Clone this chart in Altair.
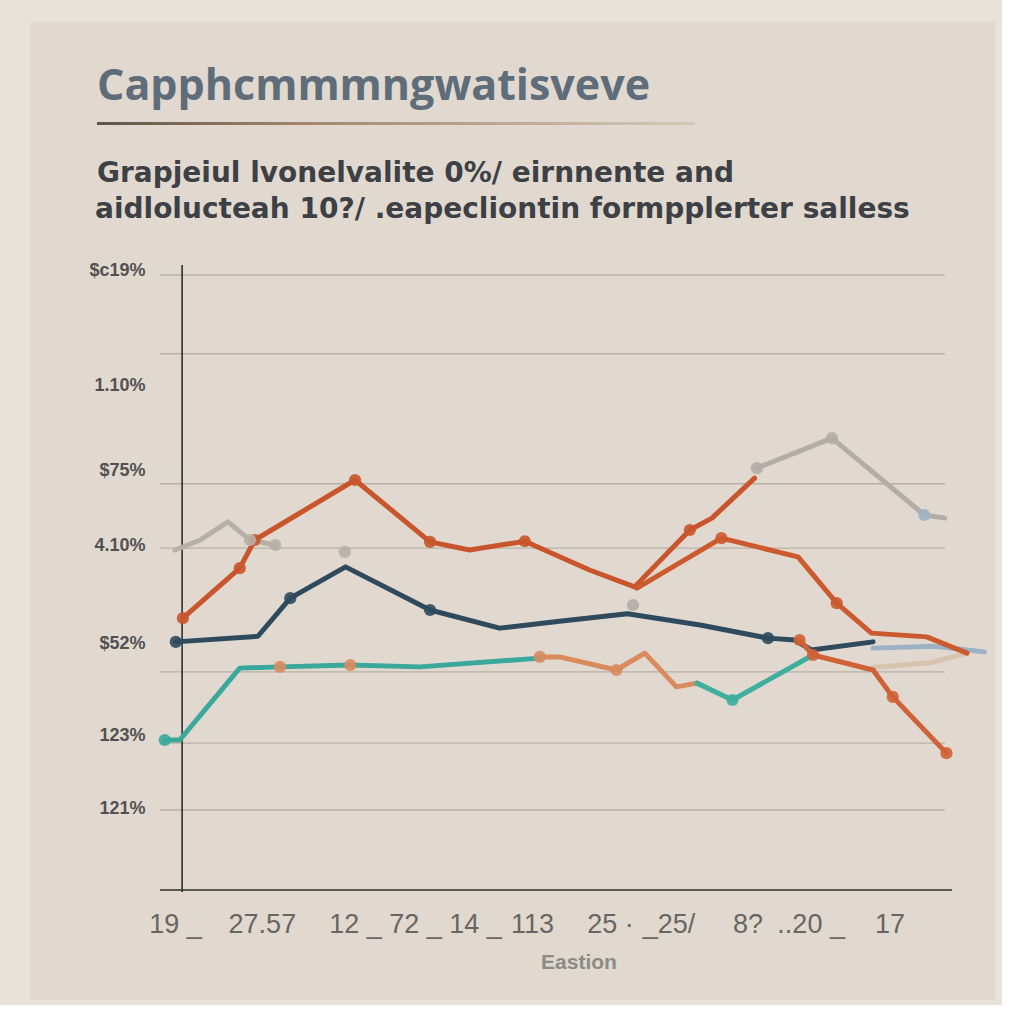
import altair as alt
import pandas as pd

# ---------------- data ----------------
navy_x = [2.0, 12.4, 16.5, 23.5, 34.2, 43.0, 50.6, 59.2, 68.4, 77.0, 80.4, 82.5, 90.3]
navy_y = [39.7, 40.6, 46.7, 51.7, 44.8, 41.9, 43.0, 44.2, 42.4, 40.3, 40.0, 38.4, 39.7]

bluetip_x = [90.3, 98.1, 104.4]
bluetip_y = [38.7, 39.0, 38.1]

orange_a_x = [2.9, 10.1, 12.0, 17.3, 24.7, 34.2, 39.2, 46.2, 54.4, 60.1, 67.1, 69.9, 75.3]
orange_a_y = [43.5, 51.5, 56.0, 60.0, 65.6, 55.7, 54.4, 55.8, 51.2, 48.5, 57.6, 59.5, 65.9]

gray_r_x = [75.6, 85.1, 96.8, 99.4]
gray_r_y = [67.5, 72.3, 60.0, 59.5]

orange_b_x = [60.4, 71.1, 80.8, 85.7, 90.1, 97.1, 102.2]
orange_b_y = [48.3, 56.3, 53.3, 45.9, 41.1, 40.5, 37.9]

beige_x = [90.3, 97.7, 102.2]
beige_y = [35.6, 36.4, 37.9]

orange_c_x = [48.1, 50.6, 57.8, 61.4, 65.4, 68.0]
orange_c_y = [37.3, 37.3, 35.2, 37.9, 32.5, 33.1]

teal_a_x = [0.6, 2.5, 10.1, 15.2, 24.1, 32.9, 48.1]
teal_a_y = [24.0, 24.0, 35.5, 35.7, 36.0, 35.7, 37.1]

teal_b_x = [68.0, 72.5, 82.7]
teal_b_y = [33.1, 30.4, 37.6]

orange_d_x = [81.0, 82.7, 90.3, 92.8, 99.6]
orange_d_y = [40.0, 37.6, 35.2, 30.9, 21.9]

gray_l_x = [1.9, 5.1, 8.6, 11.4, 14.6]
gray_l_y = [54.4, 56.0, 58.9, 56.0, 55.2]

marker_series = ["orange_a", "orange_a", "orange_a", "orange_a", "orange_a", "orange_a",
                 "orange_a", "navy", "navy", "navy", "teal_a", "orange_c", "orange_c",
                 "orange_c", "orange_c", "gray_r", "gray_r", "bluetip", "orange_b",
                 "orange_b", "orange_d", "orange_d", "orange_d", "orange_d", "gray_l",
                 "gray_l", "gray_l", "gray_r", "teal_b", "navy"]
marker_x = [2.9, 10.1, 12.0, 24.7, 34.2, 46.2, 67.1, 16.5, 34.2, 77.0, 0.6, 15.2, 24.1,
            48.1, 57.8, 75.6, 85.1, 96.8, 71.1, 85.7, 81.0, 82.7, 92.8, 99.6, 11.4,
            23.4, 14.6, 59.9, 72.5, 2.0]
marker_y = [43.5, 51.5, 56.0, 65.6, 55.7, 55.8, 57.6, 46.7, 44.8, 40.3, 24.0, 35.7, 36.0,
            37.3, 35.2, 67.5, 72.3, 60.0, 56.3, 45.9, 40.0, 37.6, 30.9, 21.9, 56.0,
            54.1, 55.2, 45.6, 30.4, 39.7]

grid_values = [98.4, 85.8, 65.0, 54.7, 34.9, 23.5, 12.8]

y_tick_values = [99.2, 80.8, 67.2, 55.2, 39.5, 24.8, 13.1]
y_tick_labels = ["$c19%", "1.10%", "$75%", "4.10%", "$52%", "123%", "121%"]

x_tick_values = [1.9, 12.9, 24.7, 32.3, 39.9, 47.1, 57.0, 64.4, 74.4, 82.4, 92.4]
x_tick_labels = ["19 _", "27.57", "12 _", "72 _", "14 _", "113", "25 ·", "_25/", "8?", "..20 _", "17"]

title_text = "Capphcmmmngwatisveve"
subtitle_lines = ["Grapjeiul lvonelvalite 0%/ eirnnente  and",
                  "aidlolucteah 10?/ .eapecliontin  formpplerter salless"]
x_title = "Eastion"

series_order = ["gray_l", "gray_r", "bluetip", "beige", "teal_a", "teal_b", "orange_c",
                "navy", "orange_a", "orange_b", "orange_d"]
series_colors = ["#b7b0a9", "#b3ada6", "#9cb2c4", "#d8c3ae", "#3aa99c", "#3fae9f",
                 "#d98b5e", "#2e4a5c", "#c8552b", "#cb5a2e", "#cf6236"]

# ---------------- tables ----------------
rows = []
for name, xs, ys in [("beige", beige_x, beige_y), ("navy", navy_x, navy_y),
                     ("bluetip", bluetip_x, bluetip_y),
                     ("orange_a", orange_a_x, orange_a_y), ("gray_r", gray_r_x, gray_r_y),
                     ("orange_b", orange_b_x, orange_b_y), ("orange_c", orange_c_x, orange_c_y),
                     ("teal_a", teal_a_x, teal_a_y), ("teal_b", teal_b_x, teal_b_y),
                     ("orange_d", orange_d_x, orange_d_y), ("gray_l", gray_l_x, gray_l_y)]:
    for i, (a, b) in enumerate(zip(xs, ys)):
        rows.append({"series": name, "x": a, "y": b, "i": i})
lines_df = pd.DataFrame(rows)
markers_df = pd.DataFrame({"series": marker_series, "x": marker_x, "y": marker_y})
grid_df = pd.DataFrame({"g": grid_values, "x0": [0.0] * len(grid_values),
                        "x1": [99.4] * len(grid_values)})

xs_scale = alt.Scale(domain=[0, 106], nice=False, zero=False)
ys_scale = alt.Scale(domain=[0, 100], nice=False, zero=False)
color_scale = alt.Scale(domain=series_order, range=series_colors)


def ternary(values, labels):
    expr = "''"
    for v, s in reversed(list(zip(values, labels))):
        expr = "abs(datum.value - %s) < 0.01 ? '%s' : (%s)" % (v, s, expr)
    return expr


x_axis = alt.Axis(values=x_tick_values, labelExpr=ternary(x_tick_values, x_tick_labels),
                  grid=False, domain=False, ticks=False, labelFontSize=27,
                  labelColor="#686563", labelFont="Liberation Sans",
                  labelPadding=21, labelOverlap=False, labelFlush=False,
                  title=x_title, titleFontSize=21, titleColor="#8d8a86",
                  titleFont="Liberation Sans", titleFontWeight="bold",
                  titlePadding=14, zindex=2)
y_axis = alt.Axis(values=y_tick_values, labelExpr=ternary(y_tick_values, y_tick_labels),
                  grid=False, domain=False, ticks=False, labelFontSize=18,
                  labelColor="#525152", labelFont="Liberation Sans",
                  labelFontWeight="bold", labelPadding=15,
                  labelOverlap=False, labelFlush=False, title=None, zindex=2)

one = pd.DataFrame({"k": [0]})

panel = alt.Chart(one).mark_rect(color="#e1d9cf").encode(
    x=alt.value(-130), x2=alt.value(835), y=alt.value(-243), y2=alt.value(735))

underline = alt.Chart(one).mark_rect(
    color=alt.Gradient(gradient="linear",
                       stops=[alt.GradientStop(color="#5e544c", offset=0),
                              alt.GradientStop(color="#a4876a", offset=0.35),
                              alt.GradientStop(color="#d3c8bc", offset=1)],
                       x1=0, x2=1, y1=0, y2=0)
).encode(x=alt.value(-63), x2=alt.value(535), y=alt.value(-143), y2=alt.value(-140))

title_df = pd.DataFrame({"t": [title_text]})
title_mark = alt.Chart(title_df).mark_text(
    font="Open Sans", fontSize=43, fontWeight="bold", color="#5e6d79",
    align="left", baseline="alphabetic").encode(
    text="t:N", x=alt.value(-63), y=alt.value(-165))

sub1 = alt.Chart(pd.DataFrame({"t": [subtitle_lines[0]]})).mark_text(
    font="DejaVu Sans", fontSize=28, fontWeight="bold", color="#3d4044", align="left",
    baseline="alphabetic").encode(text="t:N", x=alt.value(-63), y=alt.value(-83))
sub2 = alt.Chart(pd.DataFrame({"t": [subtitle_lines[1]]})).mark_text(
    font="DejaVu Sans", fontSize=28, fontWeight="bold", color="#3d4044", align="left",
    baseline="alphabetic").encode(text="t:N", x=alt.value(-65), y=alt.value(-47))

grid = alt.Chart(grid_df).mark_rule(color="#b9b0a5", strokeWidth=1.3).encode(
    x=alt.X("x0:Q", scale=xs_scale, axis=x_axis), x2="x1:Q",
    y=alt.Y("g:Q", scale=ys_scale, axis=y_axis))

lines = alt.Chart(lines_df).mark_line(strokeWidth=5, strokeJoin="round", strokeCap="round").encode(
    x=alt.X("x:Q", scale=xs_scale, axis=x_axis),
    y=alt.Y("y:Q", scale=ys_scale, axis=y_axis),
    color=alt.Color("series:N", scale=color_scale, legend=None),
    detail="series:N",
    order="i:Q")

points = alt.Chart(markers_df).mark_circle(size=150, opacity=0.9).encode(
    x=alt.X("x:Q", scale=xs_scale, axis=x_axis),
    y=alt.Y("y:Q", scale=ys_scale, axis=y_axis),
    color=alt.Color("series:N", scale=color_scale, legend=None))

axis_lines = pd.DataFrame({"x0": [2.8, 0.0], "x1": [2.8, 100.3],
                           "y0": [100.0, 0.0], "y1": [-0.3, 0.0]})
axes = alt.Chart(axis_lines).mark_rule(color="#2f2f2f", strokeWidth=1.6).encode(
    x=alt.X("x0:Q", scale=xs_scale, axis=x_axis), x2="x1:Q",
    y=alt.Y("y0:Q", scale=ys_scale, axis=y_axis), y2="y1:Q")

chart = alt.layer(panel, underline, title_mark, sub1, sub2, grid, axes, lines, points).properties(
    width=837, height=625,
    padding={"left": 30, "top": 22, "right": 5, "bottom": 5},
    background="#e9e2da",
).configure_view(strokeWidth=0)

chart.save("out.html", embed_options={"renderer": "svg", "actions": False})
